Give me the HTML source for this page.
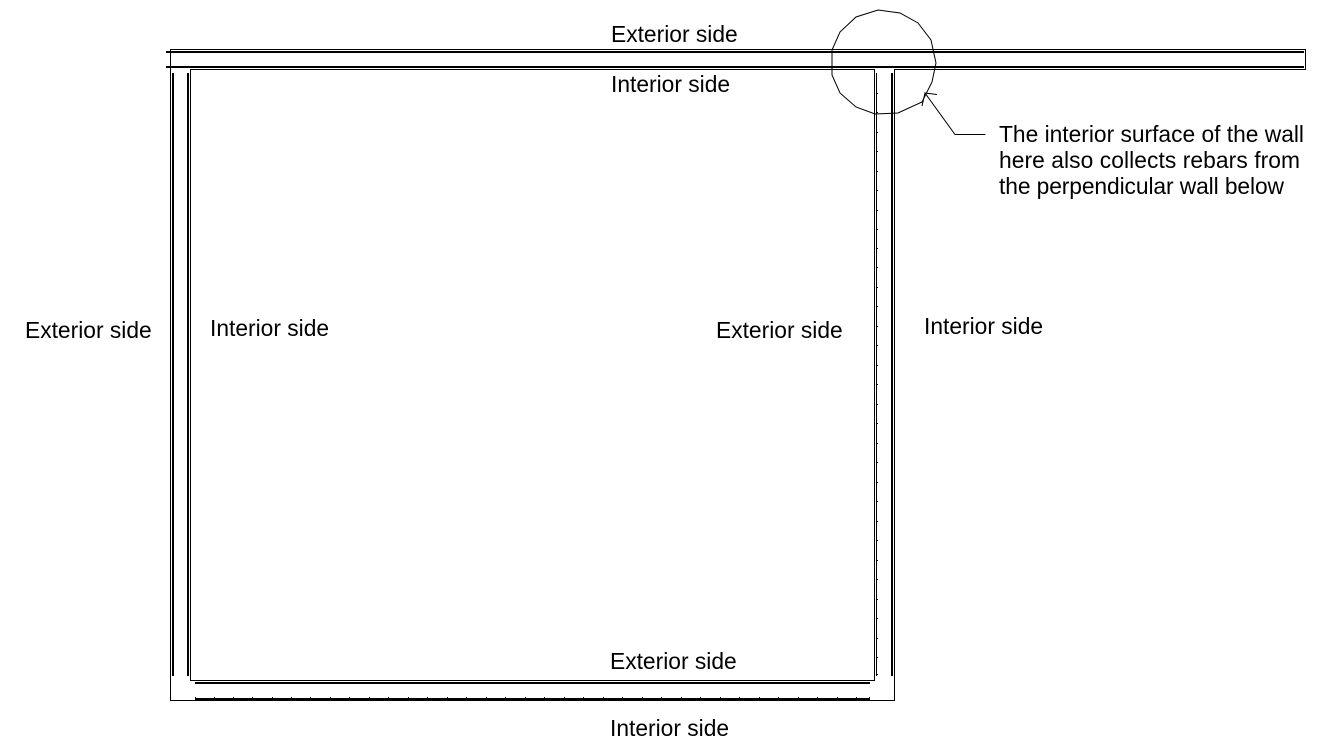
<!DOCTYPE html>
<html lang="en">
<head>
<meta charset="utf-8">
<title>Wall rebar diagram</title>
<style>
html,body{margin:0;padding:0;background:#fff;width:1334px;height:753px;overflow:hidden}
svg{display:block}
text{font-family:"Liberation Sans",Arial,sans-serif;font-size:22.8px;fill:#000}
</style>
</head>
<body>
<svg width="1334" height="753" viewBox="0 0 1334 753" xmlns="http://www.w3.org/2000/svg">
<g fill="#000" shape-rendering="crispEdges">
<!-- top wall -->
<rect x="170" y="49" width="1136" height="1"/>
<rect x="166" y="51" width="1138" height="2"/>
<rect x="166" y="66" width="1138" height="2"/>
<rect x="190" y="69" width="685" height="1"/>
<rect x="894" y="69" width="412" height="1"/>
<rect x="1305" y="49" width="1" height="21"/>
<!-- left wall -->
<rect x="170" y="49" width="1" height="652"/>
<rect x="172" y="73" width="2" height="603"/>
<rect x="187" y="73" width="2" height="603"/>
<rect x="190" y="69" width="1" height="612"/>
<!-- right wall -->
<rect x="874" y="69" width="1" height="612"/>
<rect x="876" y="73" width="1" height="603"/>
<rect x="891" y="73" width="2" height="603"/>
<rect x="894" y="69" width="1" height="632"/>
<!-- bottom wall -->
<rect x="190" y="680" width="685" height="1"/>
<rect x="195" y="682" width="675" height="2"/>
<rect x="195" y="698" width="675" height="2"/>
<rect x="170" y="700" width="725" height="1"/>
<!-- ticks -->
<path d="M195 697h1v1h-1zM214 697h1v1h-1zM233 697h1v1h-1zM252 697h1v1h-1zM272 697h1v1h-1zM291 697h1v1h-1zM310 697h1v1h-1zM330 697h1v1h-1zM349 697h1v1h-1zM369 697h1v1h-1zM388 697h1v1h-1zM408 697h1v1h-1zM427 697h1v1h-1zM447 697h1v1h-1zM466 697h1v1h-1zM486 697h1v1h-1zM505 697h1v1h-1zM525 697h1v1h-1zM544 697h1v1h-1zM564 697h1v1h-1zM583 697h1v1h-1zM603 697h1v1h-1zM622 697h1v1h-1zM642 697h1v1h-1zM661 697h1v1h-1zM681 697h1v1h-1zM700 697h1v1h-1zM720 697h1v1h-1zM739 697h1v1h-1zM759 697h1v1h-1zM778 697h1v1h-1zM798 697h1v1h-1zM817 697h1v1h-1zM837 697h1v1h-1zM856 697h1v1h-1zM869 697h1v1h-1z"/>
<path d="M877 93h1v1h-1zM877 112h1v1h-1zM877 132h1v1h-1zM877 151h1v1h-1zM877 171h1v1h-1zM877 190h1v1h-1zM877 210h1v1h-1zM877 229h1v1h-1zM877 248h1v1h-1zM877 267h1v1h-1zM877 287h1v1h-1zM877 306h1v1h-1zM877 326h1v1h-1zM877 345h1v1h-1zM877 365h1v1h-1zM877 384h1v1h-1zM877 404h1v1h-1zM877 423h1v1h-1zM877 443h1v1h-1zM877 462h1v1h-1zM877 482h1v1h-1zM877 501h1v1h-1zM877 521h1v1h-1zM877 540h1v1h-1zM877 560h1v1h-1zM877 579h1v1h-1zM877 599h1v1h-1zM877 618h1v1h-1zM877 638h1v1h-1zM877 657h1v1h-1zM877 674h1v1h-1z"/>
</g>
<!-- detail circle -->
<polygon points="832,50 840,32 856,17 878,10 900,13 918,23 931,40 936,63 932,82 922,102 898,113 875,114 856,107 840,93 832,75" fill="none" stroke="#000" stroke-width="1"/>
<!-- leader -->
<polyline points="985.5,134.5 955,134.5 925,93 937,94.5" fill="none" stroke="#000" stroke-width="1"/>
<polyline points="925,93 922,106" fill="none" stroke="#000" stroke-width="1"/>
<!-- labels -->
<text x="611" y="42">Exterior side</text>
<text x="611" y="92">Interior side</text>
<text x="25" y="338">Exterior side</text>
<text x="210" y="336">Interior side</text>
<text x="716" y="338">Exterior side</text>
<text x="924" y="334">Interior side</text>
<text x="610" y="669">Exterior side</text>
<text x="610" y="736">Interior side</text>
<text x="999" y="142" textLength="305">The interior surface of the wall</text>
<text x="999" y="168" textLength="301">here also collects rebars from</text>
<text x="999" y="194" textLength="285">the perpendicular wall below</text>
</svg>
</body>
</html>
